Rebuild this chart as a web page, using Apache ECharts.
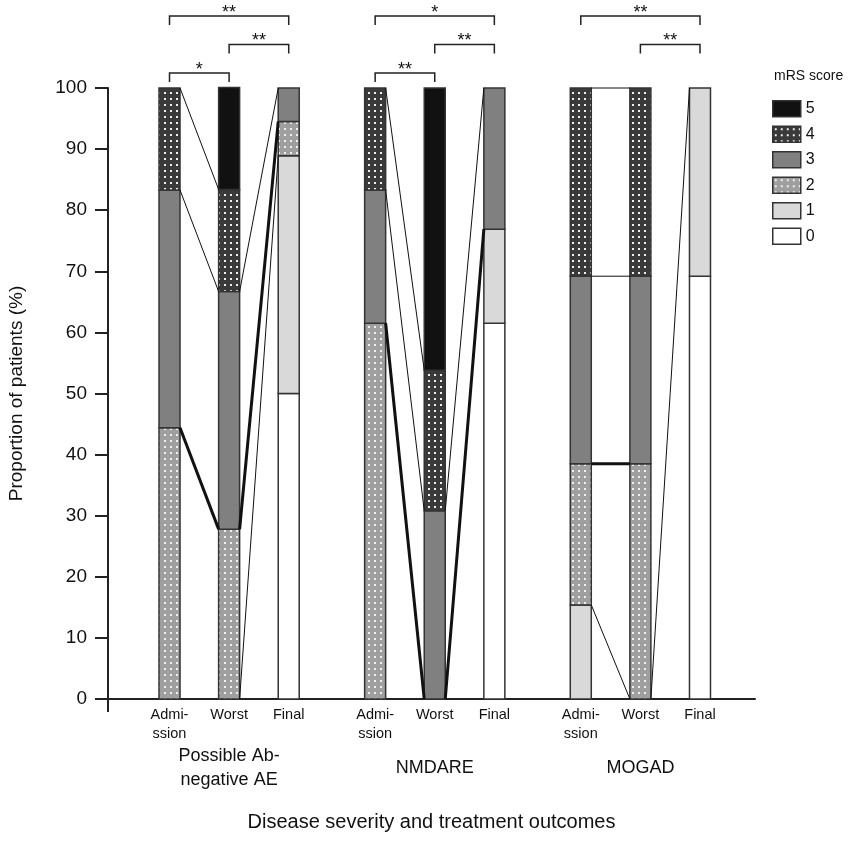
<!DOCTYPE html>
<html>
<head>
<meta charset="utf-8">
<script src="https://cdn.jsdelivr.net/npm/echarts@6/dist/echarts.min.js"></script>
<style>
  html, body { margin: 0; padding: 0; background: #fff; }
  #main { width: 851px; height: 841px; }
</style>
</head>
<body>
<div id="main"></div>
<script>
// groups and time points
var groups = ['Possible Ab-\nnegative AE', 'NMDARE', 'MOGAD'];
var stages = ['Admi-\nssion', 'Worst', 'Final'];
var scoreNames = ['0', '1', '2', '3', '4', '5'];

// % of patients per mRS score, 9 bars: (group x stage)
var score0 = [0, 0, 50.0, 0, 0, 61.5, 0, 0, 69.2];
var score1 = [0, 0, 38.9, 0, 0, 15.4, 15.4, 0, 30.8];
var score2 = [44.4, 27.8, 5.6, 61.5, 0, 0, 23.1, 38.5, 0];
var score3 = [38.9, 38.9, 5.5, 21.8, 30.8, 23.1, 30.7, 30.7, 0];
var score4 = [16.7, 16.7, 0, 16.7, 23.0, 0, 30.8, 30.8, 0];
var score5 = [0, 16.7, 0, 0, 46.2, 0, 0, 0, 0];

// connecting lines: [fromBar, toBar, top of score <= level, bold]
var links = [
  [0, 1, 4, 0], [0, 1, 3, 0], [0, 1, 2, 1],
  [1, 2, 3, 0], [1, 2, 2, 1], [1, 2, 1, 0],
  [3, 4, 4, 0], [3, 4, 3, 0], [3, 4, 2, 1],
  [4, 5, 3, 0], [4, 5, 2, 1],
  [6, 7, 4, 0], [6, 7, 3, 0], [6, 7, 2, 1], [6, 7, 1, 0],
  [7, 8, 1, 0]
];

// significance brackets: [fromBar, toBar, tier, label]
var brackets = [
  [0, 2, 2, '**'], [1, 2, 1, '**'], [0, 1, 0, '*'],
  [3, 5, 2, '*'], [4, 5, 1, '**'], [3, 4, 0, '**'],
  [6, 8, 2, '**'], [7, 8, 1, '**']
];

var scores = [score0, score1, score2, score3, score4, score5];
var FONT = '"Liberation Sans", Arial, sans-serif';
var HW = 10.5; // half bar width px
var X_MIN = -1.032, X_MAX = 9.823;

function xpos(i) { return Math.floor(i / 3) * 3.45 + (i % 3); }

// cumulative tops
var cum = [];
for (var k = 0; k < 6; k++) {
  cum.push(scores[k].map(function (v, i) { return (k > 0 ? cum[k - 1][i] : 0) + v; }));
}

function dots(base) {
  var c = document.createElement('canvas');
  c.width = 6; c.height = 6;
  var ctx = c.getContext('2d');
  ctx.fillStyle = base; ctx.fillRect(0, 0, 6, 6);
  ctx.fillStyle = '#f0f0f0'; ctx.fillRect(2, 2, 2, 2);
  return { image: c, repeat: 'repeat' };
}

var fills = ['#ffffff', '#d9d9d9', dots('#9f9f9f'), '#808080', dots('#3a3a3a'), '#111111'];

var chart = echarts.init(document.getElementById('main'), null, { renderer: 'canvas' });

var series = [];
scoreNames.forEach(function (name, k) {
  series.push({
    name: name,
    type: 'custom',
    itemStyle: { color: fills[k], borderColor: '#333', borderWidth: 1.5 },
    encode: { x: 0, y: [1, 2] },
    data: scores[k].map(function (v, i) { return [xpos(i), k > 0 ? cum[k - 1][i] : 0, cum[k][i]]; }),
    renderItem: function (params, api) {
      var x = api.value(0), y0 = api.value(1), y1 = api.value(2);
      if (y1 - y0 <= 0.01) return null;
      var a = api.coord([x, y1]), b = api.coord([x, y0]);
      return {
        type: 'rect',
        shape: { x: a[0] - HW, y: a[1], width: HW * 2, height: b[1] - a[1] },
        style: { fill: fills[k], stroke: '#333', lineWidth: 1.5 }
      };
    }
  });
});

// connecting lines
series.push({
  type: 'custom',
  silent: true,
  encode: { x: [0, 2], y: [1, 3] },
  data: links.map(function (l) {
    return [xpos(l[0]), cum[l[2]][l[0]], xpos(l[1]), cum[l[2]][l[1]], l[3]];
  }),
  renderItem: function (params, api) {
    var p1 = api.coord([api.value(0), api.value(1)]);
    var p2 = api.coord([api.value(2), api.value(3)]);
    var bold = api.value(4) === 1;
    return {
      type: 'line',
      shape: { x1: p1[0] + HW, y1: p1[1], x2: p2[0] - HW, y2: p2[1] },
      style: { stroke: '#111', lineWidth: bold ? 3 : 1 },
      z2: bold ? 10 : 5
    };
  },
  z: 3
});

// significance brackets
series.push({
  type: 'custom',
  silent: true,
  clip: false,
  encode: { x: [0, 1] },
  data: brackets.map(function (b, i) { return [xpos(b[0]), xpos(b[1]), 100, i]; }),
  renderItem: function (params, api) {
    var b = brackets[api.value(3)];
    var p1 = api.coord([api.value(0), 100]);
    var p2 = api.coord([api.value(1), 100]);
    var ly = p1[1] - 15 - b[2] * 28.5;
    return {
      type: 'group',
      children: [
        { type: 'polyline', shape: { points: [[p1[0], ly + 9], [p1[0], ly], [p2[0], ly], [p2[0], ly + 9]] },
          style: { stroke: '#222', lineWidth: 1.5, fill: null } },
        { type: 'text', x: (p1[0] + p2[0]) / 2, y: ly - 3,
          style: { text: b[3], fontSize: 18, fontFamily: FONT, fill: '#111', align: 'center', verticalAlign: 'middle' } }
      ]
    };
  }
});

// stage / group labels under the axis
series.push({
  type: 'custom',
  silent: true,
  clip: false,
  encode: { x: 0 },
  data: score0.map(function (v, i) { return [xpos(i), 0, i]; }),
  renderItem: function (params, api) {
    var i = api.value(2);
    var p = api.coord([api.value(0), 0]);
    var children = [
      { type: 'text', x: p[0], y: p[1] + 6,
        style: { text: stages[i % 3], fontSize: 14.5, lineHeight: 19, fontFamily: FONT, fill: '#111', align: 'center', verticalAlign: 'top' } }
    ];
    if (i % 3 === 1) {
      children.push({ type: 'text', x: p[0], y: p[1] + 69,
        style: { text: groups[Math.floor(i / 3)], fontSize: 18, lineHeight: 24, fontFamily: FONT, fill: '#111', align: 'center', verticalAlign: 'middle' } });
    }
    if (i === 0) {
      var o = api.coord([X_MIN, 0]);
      children.push({ type: 'line', shape: { x1: o[0], y1: o[1], x2: o[0], y2: o[1] + 13 },
        style: { stroke: '#222', lineWidth: 2 } });
    }
    return { type: 'group', children: children };
  }
});

var option = {
  animation: false,
  backgroundColor: '#fff',
  title: {
    text: 'mRS score', left: 769, top: 64,
    textStyle: { fontSize: 14, fontWeight: 'normal', color: '#111', fontFamily: FONT }
  },
  legend: {
    orient: 'vertical', left: 767, top: 95,
    icon: 'rect', itemWidth: 28, itemHeight: 16, itemGap: 8,
    data: ['5', '4', '3', '2', '1', '0'],
    textStyle: { fontSize: 16, color: '#111', fontFamily: FONT },
    itemStyle: { borderColor: '#333', borderWidth: 1.5 },
    selectedMode: false
  },
  grid: { left: 108, right: 96, top: 88, bottom: 142, outerBoundsMode: 'none' },
  xAxis: {
    type: 'value', min: X_MIN, max: X_MAX,
    name: 'Disease severity and treatment outcomes',
    nameLocation: 'middle', nameGap: 113,
    nameTextStyle: { fontSize: 20, color: '#111', fontFamily: FONT },
    axisLine: { show: true, onZero: false, lineStyle: { color: '#222', width: 2 } },
    axisTick: { show: false }, axisLabel: { show: false }, splitLine: { show: false }
  },
  yAxis: {
    type: 'value', min: 0, max: 100, interval: 10,
    name: 'Proportion of patients (%)',
    nameLocation: 'middle', nameGap: 82,
    nameTextStyle: { fontSize: 19, color: '#111', fontFamily: FONT },
    axisLine: { show: true, onZero: false, lineStyle: { color: '#222', width: 2 } },
    axisTick: { show: true, length: 13, lineStyle: { color: '#222', width: 2 } },
    axisLabel: { fontSize: 19, color: '#111', margin: 21, fontFamily: FONT },
    splitLine: { show: false }
  },
  series: series
};

chart.setOption(option);
</script>
</body>
</html>
